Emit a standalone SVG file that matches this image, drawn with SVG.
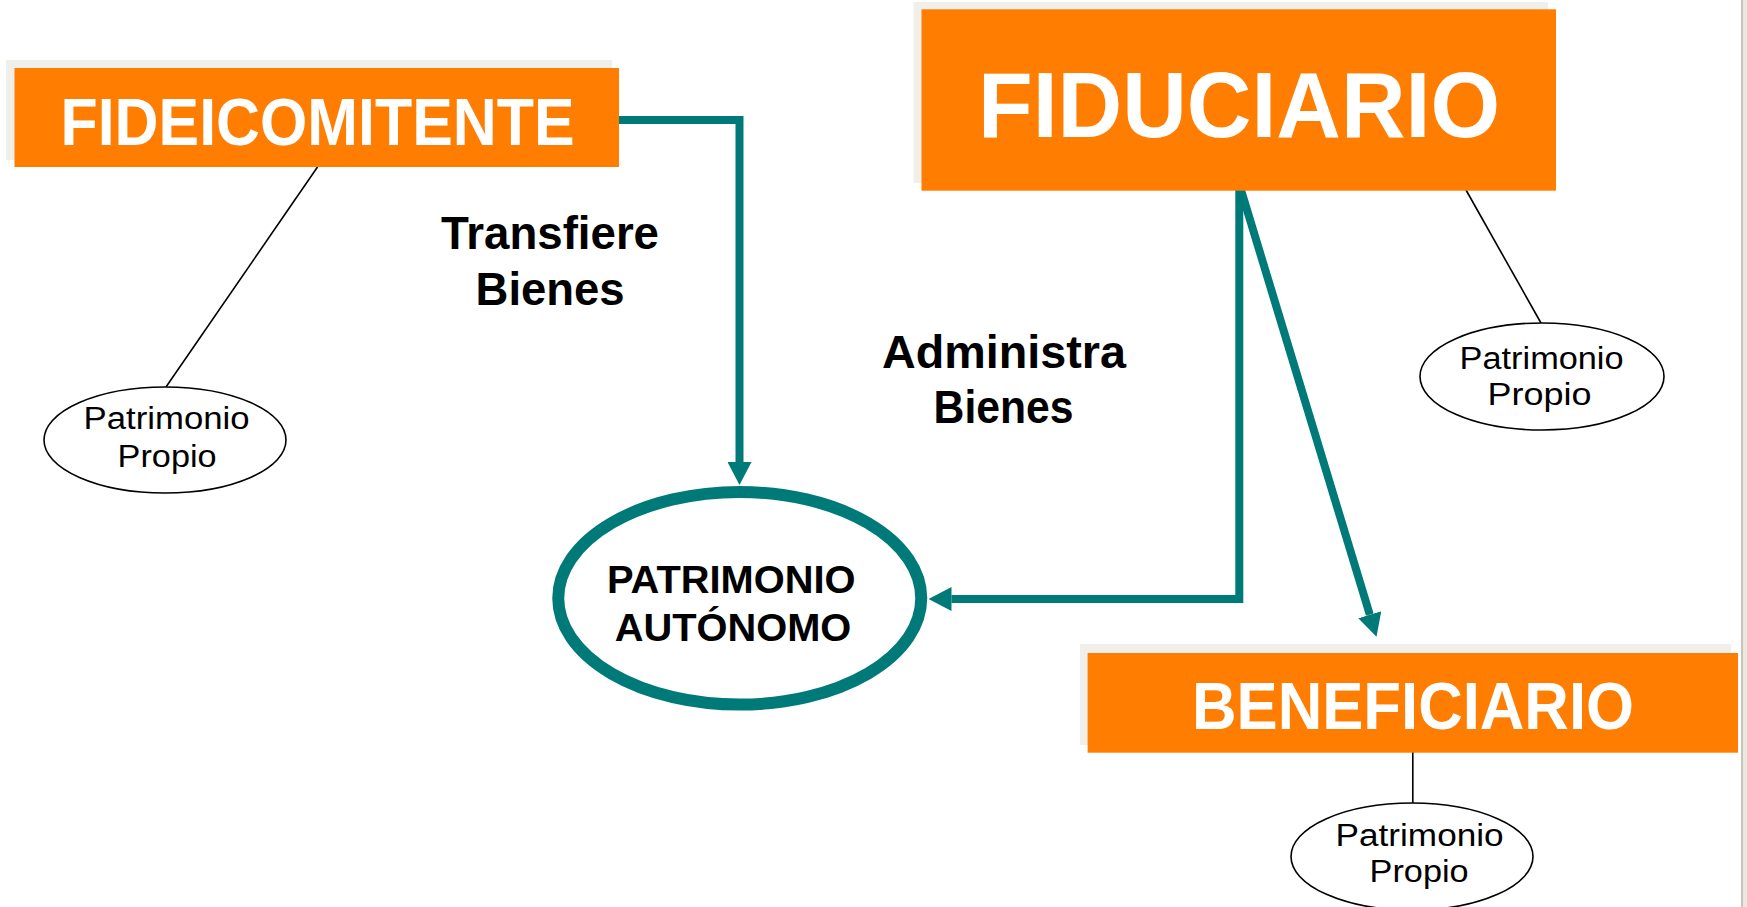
<svg xmlns="http://www.w3.org/2000/svg" width="1747" height="907" viewBox="0 0 1747 907">
<style>
.shadow{fill:#f0efea}
.box{fill:#ff7d00}
.title{font-family:"Liberation Sans",Arial,sans-serif;font-weight:bold;fill:#ffffff}
.lbl{font-family:"Liberation Sans",Arial,sans-serif;font-weight:bold;fill:#000000}
.small{font-family:"Liberation Sans",Arial,sans-serif;font-size:31px;fill:#000000}
.pp{fill:#ffffff;stroke:#000000;stroke-width:1.6}
.thin{stroke:#000000;stroke-width:1.6;fill:none}
.teal{stroke:#007a78;stroke-width:8;fill:none}
</style>
<defs>
<marker id="arr" viewBox="0 -12 23 24" refX="0" refY="0" markerWidth="23" markerHeight="24" markerUnits="userSpaceOnUse" orient="auto">
<path d="M0,-12 L23,0 L0,12 z" fill="#007a78"/>
</marker>
</defs>
<rect x="0" y="0" width="1747" height="907" fill="#ffffff"/>
<rect x="1741" y="0" width="2" height="907" fill="#c8c4bb"/>
<rect x="1743" y="0" width="4" height="907" fill="#ece8e0"/>

<g id="connectors">
<path class="teal" d="M619,120 H739.5 V462" marker-end="url(#arr)"/>
<path class="teal" d="M1239.3,190 V599 H951.5" marker-end="url(#arr)"/>
<path class="teal" d="M1241,190 L1369.8,614.7" marker-end="url(#arr)"/>
<line class="thin" x1="317.5" y1="167" x2="166" y2="387"/>
<line class="thin" x1="1466" y1="190" x2="1541" y2="323"/>
<line class="thin" x1="1412.8" y1="752" x2="1412.8" y2="803"/>
</g>

<g id="lbl-transfiere">
<text class="lbl" font-size="47" x="441" y="249" textLength="218" lengthAdjust="spacingAndGlyphs">Transfiere</text>
<text class="lbl" font-size="47" x="475.6" y="305" textLength="149" lengthAdjust="spacingAndGlyphs">Bienes</text>
</g>
<g id="lbl-administra">
<text class="lbl" font-size="47" x="882" y="368.3" textLength="244" lengthAdjust="spacingAndGlyphs">Administra</text>
<text class="lbl" font-size="47" x="933.6" y="423.3" textLength="140" lengthAdjust="spacingAndGlyphs">Bienes</text>
</g>

<g id="fideicomitente">
<rect class="shadow" x="6" y="60" width="606" height="100"/>
<rect class="box" x="14.5" y="68" width="604.5" height="99"/>
<text class="title" font-size="67" x="60.5" y="145" textLength="514" lengthAdjust="spacingAndGlyphs">FIDEICOMITENTE</text>
</g>

<g id="fiduciario">
<rect class="shadow" x="913.5" y="2" width="634.5" height="181"/>
<rect class="box" x="921.5" y="9.3" width="634.5" height="181.4"/>
<text class="title" font-size="93" x="978" y="137.3" textLength="522" lengthAdjust="spacingAndGlyphs">FIDUCIARIO</text>
</g>

<g id="beneficiario">
<rect class="shadow" x="1080" y="644" width="651" height="101"/>
<rect class="box" x="1087.6" y="653" width="650.4" height="99.7"/>
<text class="title" font-size="66.5" x="1192" y="729.3" textLength="442" lengthAdjust="spacingAndGlyphs">BENEFICIARIO</text>
</g>

<g id="patrimonio-autonomo">
<ellipse cx="739.75" cy="598.3" rx="181.5" ry="106.3" fill="#ffffff" stroke="#007a78" stroke-width="12"/>
<text class="lbl" font-size="39" x="607" y="593.3" textLength="248.5" lengthAdjust="spacingAndGlyphs">PATRIMONIO</text>
<text class="lbl" font-size="39" x="614.8" y="640.7" textLength="236.5" lengthAdjust="spacingAndGlyphs">AUTÓNOMO</text>
</g>

<g id="pp-fideicomitente">
<ellipse class="pp" cx="165" cy="440" rx="121" ry="53"/>
<text class="small" x="83.6" y="429" textLength="166" lengthAdjust="spacingAndGlyphs">Patrimonio</text>
<text class="small" x="117.6" y="466.7" textLength="99" lengthAdjust="spacingAndGlyphs">Propio</text>
</g>

<g id="pp-fiduciario">
<ellipse class="pp" cx="1542" cy="376.5" rx="122" ry="53.5"/>
<text class="small" x="1459.6" y="369" textLength="164" lengthAdjust="spacingAndGlyphs">Patrimonio</text>
<text class="small" x="1487.6" y="405" textLength="104" lengthAdjust="spacingAndGlyphs">Propio</text>
</g>

<g id="pp-beneficiario">
<ellipse class="pp" cx="1412" cy="856.5" rx="121" ry="53.5"/>
<text class="small" x="1335.6" y="846" textLength="168" lengthAdjust="spacingAndGlyphs">Patrimonio</text>
<text class="small" x="1369.6" y="881.7" textLength="99" lengthAdjust="spacingAndGlyphs">Propio</text>
</g>
</svg>
